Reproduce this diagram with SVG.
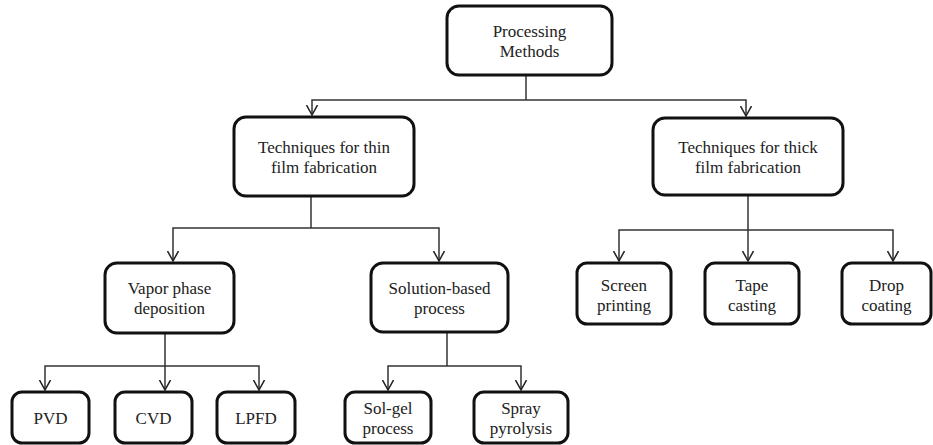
<svg xmlns="http://www.w3.org/2000/svg" width="933" height="445" viewBox="0 0 933 445">
<defs>
<marker id="arr" viewBox="0 0 12 12" markerWidth="12" markerHeight="12" refX="10" refY="6" orient="auto" markerUnits="userSpaceOnUse">
<path d="M0,0.5 L10,6 L0,11.5" fill="none" stroke="#222" stroke-width="1.5"/>
</marker>
<style>
.box{fill:#fff;stroke:#111;stroke-width:3}
.c{fill:none;stroke:#333;stroke-width:1.5}
text{font-family:'Times New Roman','Liberation Serif',Tinos,'DejaVu Serif',serif;font-size:17px;fill:#222;text-anchor:middle}
</style>
</defs>
<rect width="933" height="445" fill="#fff"/>
<g id="connectors">
<path class="c" d="M526,75 V100"/>
<path class="c" d="M526,100 H312 V115" marker-end="url(#arr)"/>
<path class="c" d="M526,100 H746 V116" marker-end="url(#arr)"/>
<path class="c" d="M311,196 V228"/>
<path class="c" d="M311,228 H173 V261" marker-end="url(#arr)"/>
<path class="c" d="M311,228 H439 V261" marker-end="url(#arr)"/>
<path class="c" d="M748,195 V261" marker-end="url(#arr)"/>
<path class="c" d="M748,230 H619 V261" marker-end="url(#arr)"/>
<path class="c" d="M748,230 H893 V261" marker-end="url(#arr)"/>
<path class="c" d="M165,333 V366"/>
<path class="c" d="M165,366 H45 V390" marker-end="url(#arr)"/>
<path class="c" d="M165,366 V390" marker-end="url(#arr)"/>
<path class="c" d="M165,366 H259 V390" marker-end="url(#arr)"/>
<path class="c" d="M447,332 V366"/>
<path class="c" d="M447,366 H388 V390" marker-end="url(#arr)"/>
<path class="c" d="M447,366 H521 V390" marker-end="url(#arr)"/>
</g>
<g id="root">
<rect class="box" x="447" y="6" width="165" height="69" rx="12"/>
<text x="529.5" y="37">Processing</text>
<text x="529.5" y="57">Methods</text>
</g>
<g id="thin">
<rect class="box" x="234" y="117" width="180" height="79" rx="12"/>
<text x="324" y="153">Techniques for thin</text>
<text x="324" y="173">film fabrication</text>
</g>
<g id="thick">
<rect class="box" x="653" y="118" width="190" height="77" rx="12"/>
<text x="748" y="153">Techniques for thick</text>
<text x="748" y="173">film fabrication</text>
</g>
<g id="vapor">
<rect class="box" x="105" y="263" width="129" height="70" rx="12"/>
<text x="169.5" y="294">Vapor phase</text>
<text x="169.5" y="314">deposition</text>
</g>
<g id="solution">
<rect class="box" x="371" y="263" width="137" height="69" rx="12"/>
<text x="439.5" y="294">Solution-based</text>
<text x="439.5" y="314">process</text>
</g>
<g id="screen">
<rect class="box" x="577" y="263" width="94" height="61" rx="10"/>
<text x="624" y="291">Screen</text>
<text x="624" y="311">printing</text>
</g>
<g id="tape">
<rect class="box" x="705" y="263" width="94" height="61" rx="10"/>
<text x="752" y="291">Tape</text>
<text x="752" y="311">casting</text>
</g>
<g id="drop">
<rect class="box" x="842" y="263" width="89" height="61" rx="10"/>
<text x="886.5" y="291">Drop</text>
<text x="886.5" y="311">coating</text>
</g>
<g id="pvd">
<rect class="box" x="12" y="392" width="77" height="51" rx="10"/>
<text x="50.5" y="424">PVD</text>
</g>
<g id="cvd">
<rect class="box" x="115" y="392" width="77" height="51" rx="10"/>
<text x="153.5" y="424">CVD</text>
</g>
<g id="lpfd">
<rect class="box" x="217" y="392" width="78" height="51" rx="10"/>
<text x="256" y="424">LPFD</text>
</g>
<g id="solgel">
<rect class="box" x="345" y="392" width="86" height="51" rx="10"/>
<text x="388" y="414">Sol-gel</text>
<text x="388" y="434">process</text>
</g>
<g id="spray">
<rect class="box" x="474" y="392" width="94" height="51" rx="10"/>
<text x="521" y="414">Spray</text>
<text x="521" y="434">pyrolysis</text>
</g>
</svg>
